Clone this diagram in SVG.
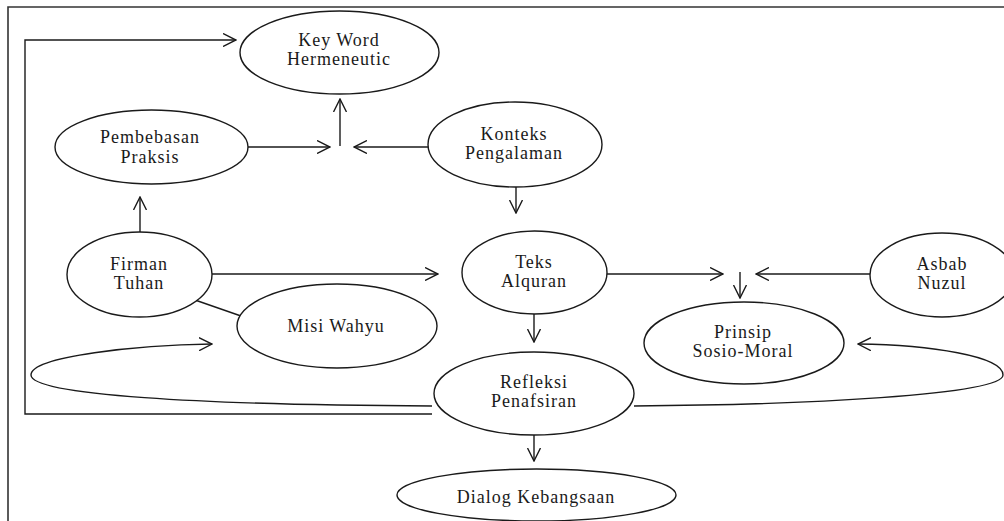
<svg xmlns="http://www.w3.org/2000/svg" width="1004" height="521" viewBox="0 0 1004 521">
<style>
.n ellipse{fill:#fff;stroke:#1a1a1a;stroke-width:1.4}
.n text{font-size:18px;letter-spacing:1px;fill:#1a1a1a;text-anchor:middle}
.c path{fill:none;stroke:#1a1a1a;stroke-width:1.4}
.a{marker-end:url(#ah)}
</style>
<defs>
<marker id="ah" viewBox="0 0 14 14" refX="13" refY="7" markerWidth="14" markerHeight="14" markerUnits="userSpaceOnUse" orient="auto">
<path d="M0,0.5 L13,7 L0,13.5" fill="none" stroke="#1a1a1a" stroke-width="1.4"/>
</marker>
</defs>
<rect width="1004" height="521" fill="#fff"/>
<path d="M1004,7 L8,7 L8,521" fill="none" stroke="#333" stroke-width="1.6"/>
<g class="c" id="connectors">
<path d="M432,414 L25,414 L25,40 L236,40" class="a"/>
<path d="M248,147 L330,147" class="a"/>
<path d="M430,147 L354,147" class="a"/>
<path d="M340,146 L340,99" class="a"/>
<path d="M516,187 L516,213" class="a"/>
<path d="M140,232 L140,197" class="a"/>
<path d="M212,274 L438,274" class="a"/>
<path d="M195,300 L241,316"/>
<path d="M607,274 L723,274" class="a"/>
<path d="M870,274 L756,274" class="a"/>
<path d="M740,272 L740,298" class="a"/>
<path d="M534,314 L534,342" class="a"/>
<path d="M534,435 L534,461" class="a"/>
<path d="M432,406 C200,405 31,395 31,375 C31,356 140,345 212,344" class="a"/>
<path d="M634,406 C800,405 1003,395 1003,375 C1003,356 930,345 858,344" class="a"/>
</g>
<g class="n" id="keyword"><ellipse cx="339.5" cy="52.5" rx="99.5" ry="41.5"/><text font-family="Liberation Serif" x="339" y="46">Key Word</text><text font-family="Liberation Serif" x="339" y="65">Hermeneutic</text></g>
<g class="n" id="pembebasan"><ellipse cx="151.5" cy="147" rx="96.5" ry="37"/><text font-family="Liberation Serif" x="150" y="143">Pembebasan</text><text font-family="Liberation Serif" x="150" y="163">Praksis</text></g>
<g class="n" id="konteks"><ellipse cx="515" cy="144.5" rx="87" ry="42.5"/><text font-family="Liberation Serif" x="514" y="140">Konteks</text><text font-family="Liberation Serif" x="514" y="159">Pengalaman</text></g>
<g class="n" id="firman"><ellipse cx="139.5" cy="274.5" rx="72.5" ry="42.5"/><text font-family="Liberation Serif" x="139" y="270">Firman</text><text font-family="Liberation Serif" x="139" y="289">Tuhan</text></g>
<g class="n" id="misi"><ellipse cx="337" cy="326" rx="100" ry="42"/><text font-family="Liberation Serif" x="336" y="332">Misi Wahyu</text></g>
<g class="n" id="teks"><ellipse cx="534.5" cy="272.5" rx="72.5" ry="41.5"/><text font-family="Liberation Serif" x="534" y="268">Teks</text><text font-family="Liberation Serif" x="534" y="287">Alquran</text></g>
<g class="n" id="asbab"><ellipse cx="942" cy="275" rx="72" ry="42"/><text font-family="Liberation Serif" x="942" y="270">Asbab</text><text font-family="Liberation Serif" x="942" y="289">Nuzul</text></g>
<g class="n" id="prinsip"><ellipse cx="744" cy="343" rx="100" ry="41"/><text font-family="Liberation Serif" x="743" y="338">Prinsip</text><text font-family="Liberation Serif" x="743" y="357">Sosio-Moral</text></g>
<g class="n" id="refleksi"><ellipse cx="534" cy="393.5" rx="100" ry="41.5"/><text font-family="Liberation Serif" x="534" y="388">Refleksi</text><text font-family="Liberation Serif" x="534" y="407">Penafsiran</text></g>
<g class="n" id="dialog"><ellipse cx="536.5" cy="495" rx="139.5" ry="26"/><text font-family="Liberation Serif" x="536" y="503">Dialog Kebangsaan</text></g>
</svg>
